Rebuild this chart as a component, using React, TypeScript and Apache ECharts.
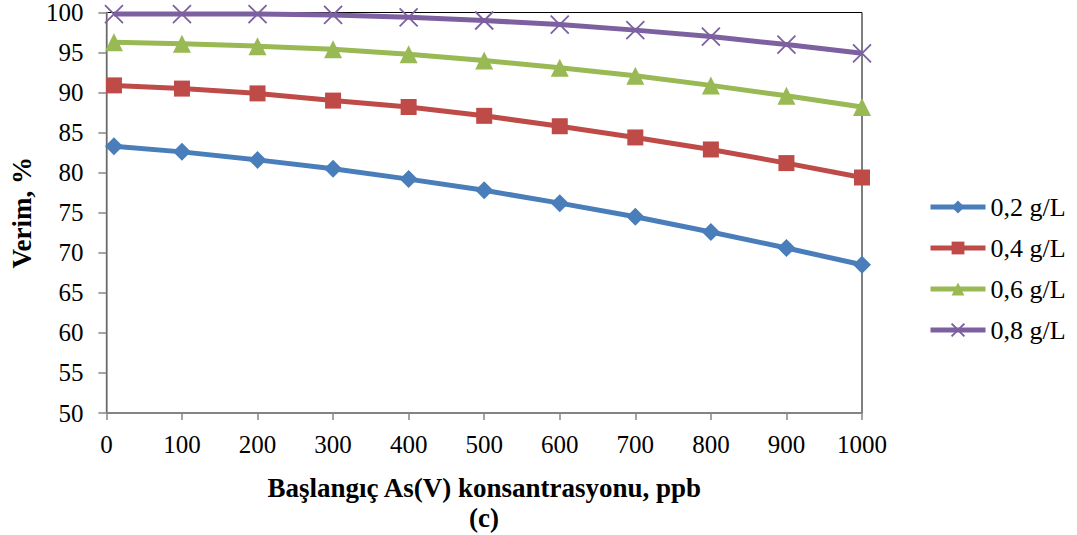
import React, { useEffect, useRef } from "react";
import * as echarts from "echarts";

// Initial As(V) concentration, ppb
const concentrations = [10, 100, 200, 300, 400, 500, 600, 700, 800, 900, 1000];

// Removal efficiency (%) for each adsorbent dose
const dose02 = [83.3, 82.6, 81.6, 80.5, 79.2, 77.8, 76.2, 74.5, 72.6, 70.6, 68.5];
const dose04 = [90.9, 90.5, 89.9, 89.0, 88.2, 87.1, 85.8, 84.4, 82.9, 81.2, 79.4];
const dose06 = [96.3, 96.1, 95.8, 95.4, 94.8, 94.0, 93.1, 92.1, 90.9, 89.6, 88.2];
const dose08 = [99.8, 99.8, 99.8, 99.7, 99.4, 99.0, 98.5, 97.8, 97.0, 96.0, 94.9];

const seriesNames = ["0,2 g/L", "0,4 g/L", "0,6 g/L", "0,8 g/L"];
const colors = ["#4A7EBB", "#BE4B48", "#98B954", "#7D60A0"];

const FONT = "Liberation Serif";

export default function App() {
  const ref = useRef<HTMLDivElement>(null);

  useEffect(() => {
    if (!ref.current) return;
    const chart = echarts.init(ref.current, null, { renderer: "svg" });

    const pairs = (vals: number[]) => concentrations.map((c, i) => [c, vals[i]]);
    const datasets = [dose02, dose04, dose06, dose08];
    const symbols = ["diamond", "rect", "triangle", "path://M0,0L10,10M10,0L0,10"];

    const series = datasets.map((vals, i) => ({
      name: seriesNames[i],
      type: "line",
      data: pairs(vals),
      symbol: symbols[i],
      symbolSize: i === 1 ? 16 : 18,
      lineStyle: { color: colors[i], width: 5 },
      itemStyle:
        i === 3
          ? { color: "none", borderColor: colors[i], borderWidth: 1.8 }
          : { color: colors[i], borderWidth: 0 },
      emphasis: { disabled: true },
      z: 3 + i,
    }));

    chart.setOption({
      animation: false,
      backgroundColor: "#ffffff",
      textStyle: { fontFamily: FONT },
      grid: {
        left: 106,
        right: 215,
        top: 11,
        bottom: 122,
        show: true,
        borderColor: "#000000",
        borderWidth: 1,
      },
      legend: {
        orient: "vertical",
        left: 928,
        top: 194,
        padding: 0,
        itemWidth: 55,
        itemHeight: 16,
        itemGap: 15,
        lineStyle: { width: 5 },
        textStyle: { fontFamily: FONT, fontSize: 26, color: "#000" },
        data: seriesNames,
      },
      xAxis: {
        type: "value",
        min: 0,
        max: 1000,
        interval: 100,
        name: "Başlangıç As(V) konsantrasyonu, ppb",
        nameLocation: "middle",
        nameGap: 61,
        nameTextStyle: { fontFamily: FONT, fontSize: 27, fontWeight: "bold", color: "#000" },
        axisLine: { lineStyle: { color: "#868686", width: 1.5 } },
        axisTick: { show: true, length: 7, lineStyle: { color: "#868686", width: 1.5 } },
        axisLabel: {
          fontFamily: FONT,
          fontSize: 25,
          color: "#000",
          margin: 19,
          formatter: (v: number) => String(v),
        },
        splitLine: { show: false },
      },
      yAxis: {
        type: "value",
        min: 50,
        max: 100,
        interval: 5,
        name: "Verim, %",
        nameLocation: "middle",
        nameGap: 70,
        nameTextStyle: { fontFamily: FONT, fontSize: 27, fontWeight: "bold", color: "#000" },
        axisLine: { show: true, lineStyle: { color: "#868686", width: 1.5 } },
        axisTick: { show: true, length: 8, lineStyle: { color: "#868686", width: 1.5 } },
        axisLabel: {
          fontFamily: FONT,
          fontSize: 25,
          color: "#000",
          margin: 23,
          formatter: (v: number) => String(v),
        },
        splitLine: { show: false },
      },
      graphic: [
        {
          type: "text",
          x: 484,
          y: 518,
          style: {
            text: "(c)",
            fontFamily: FONT,
            fontSize: 27,
            fontWeight: "bold",
            fill: "#000",
            align: "center",
            verticalAlign: "middle",
          },
        },
      ],
      series,
    });

    return () => chart.dispose();
  }, []);

  return (
    <div
      ref={ref}
      style={{ position: "fixed", left: 0, top: 0, width: 1077, height: 535 }}
    />
  );
}
